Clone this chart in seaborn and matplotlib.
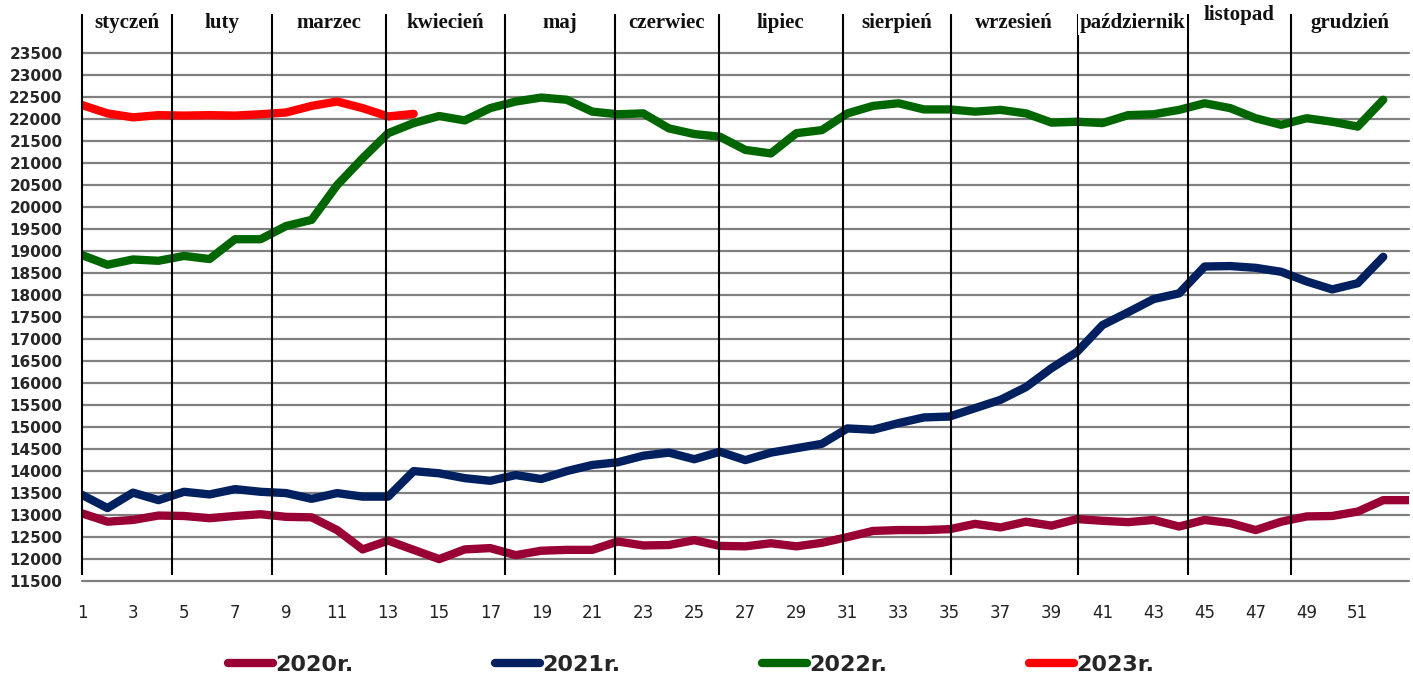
import pandas as pd
import matplotlib
matplotlib.use('Agg')
import matplotlib.pyplot as plt
from matplotlib import font_manager
from matplotlib.lines import Line2D
import seaborn as sns

# weekly values
weeks_2020 = list(range(1, 54))
vals_2020 = [13030, 12840, 12880, 12980, 12970, 12920, 12970, 13010, 12950, 12940,
             12650, 12210, 12410, 12200, 11990, 12210, 12240, 12080, 12180, 12200,
             12200, 12390, 12300, 12310, 12420, 12290, 12280, 12350, 12280, 12360,
             12490, 12630, 12650, 12650, 12670, 12790, 12710, 12840, 12750, 12900,
             12860, 12830, 12880, 12730, 12880, 12810, 12650, 12840, 12960, 12970,
             13070, 13330, 13330]

weeks_2021 = list(range(1, 53))
vals_2021 = [13450, 13150, 13500, 13330, 13520, 13460, 13580, 13520, 13490, 13360,
             13490, 13410, 13410, 13990, 13940, 13830, 13770, 13900, 13810, 13990,
             14130, 14190, 14340, 14410, 14260, 14430, 14240, 14410, 14510, 14610,
             14960, 14930, 15080, 15210, 15230, 15420, 15610, 15900, 16330, 16700,
             17310, 17600, 17900, 18030, 18640, 18650, 18610, 18520, 18300, 18120,
             18260, 18860]

weeks_2022 = list(range(1, 53))
vals_2022 = [18900, 18680, 18800, 18770, 18880, 18810, 19260, 19260, 19560, 19700,
             20490, 21100, 21670, 21900, 22060, 21960, 22240, 22390, 22480, 22430,
             22160, 22100, 22120, 21780, 21650, 21590, 21290, 21210, 21670, 21740,
             22120, 22290, 22350, 22210, 22210, 22160, 22200, 22120, 21910, 21930,
             21900, 22080, 22100, 22200, 22350, 22240, 22010, 21860, 22010, 21930,
             21820, 22430]

weeks_2023 = list(range(1, 15))
vals_2023 = [22310, 22120, 22030, 22080, 22070, 22080, 22070, 22100, 22140, 22290,
             22390, 22240, 22050, 22110]

series_labels = ['2020r.', '2021r.', '2022r.', '2023r.']
series_colors = ['#990033', '#002060', '#006600', '#FF0000']

months = ['styczeń', 'luty', 'marzec', 'kwiecień', 'maj', 'czerwiec', 'lipiec',
          'sierpień', 'wrzesień', 'październik', 'listopad', 'grudzień']
# week positions of the month separators
month_edges = [1, 4.53, 8.45, 12.91, 17.58, 21.89, 25.96, 30.82, 35.05, 40.03,
               44.34, 48.38, 53]

y_ticks = list(range(11500, 24000, 500))
x_ticks = list(range(1, 53, 2))

sns.set_style('white')

fig = plt.figure(figsize=(14.13, 6.77), dpi=100)
ax = fig.add_axes([0.058, 0.1423, 0.939, 0.7799])

data = [(weeks_2020, vals_2020), (weeks_2021, vals_2021),
        (weeks_2022, vals_2022), (weeks_2023, vals_2023)]
for (wk, vals), lab, col in zip(data, series_labels, series_colors):
    sns.lineplot(x=wk, y=vals, color=col, lw=6, ax=ax, zorder=3,
                 solid_capstyle='round', solid_joinstyle='round')

ax.set_xlim(1, 53)
ax.set_ylim(11500, 23500)
ax.set_yticks(y_ticks)
ax.set_xticks(x_ticks)
ax.set_xticklabels([str(x) for x in x_ticks], fontsize=12, color='#222222')
ax.set_yticklabels([str(y) for y in y_ticks], fontsize=11, fontweight='bold')
ax.tick_params(axis='both', length=0)
ax.tick_params(axis='x', pad=17)
ax.tick_params(axis='y', pad=14)
for s in ax.spines.values():
    s.set_visible(False)

for y in y_ticks:
    ax.axhline(y, color='#808080', lw=1.6, zorder=1, clip_on=False)

ax.vlines(month_edges[:-1], 11620, 24380, color='black', lw=1.5, zorder=4,
          clip_on=False)

for i, m in enumerate(months):
    xc = (month_edges[i] + month_edges[i + 1]) / 2
    yc = 24357 if m == 'listopad' else 24170
    ax.text(xc, yc, m, ha='center', va='center', fontsize=15,
            fontweight='bold', family='Liberation Serif', color='#111111',
            zorder=5, bbox=dict(facecolor='white', edgecolor='none', pad=1))

handles = [Line2D([0], [0], color=c, lw=6, solid_capstyle='round')
           for c in series_colors]
fig.legend(handles, series_labels, loc='center', bbox_to_anchor=(0.489, 0.018),
           ncol=4, frameon=False, handlelength=2.0, handletextpad=0.1,
           columnspacing=6.4,
           prop={'family': 'DejaVu Sans', 'weight': 'bold', 'size': 16})

fig.savefig('out.png', dpi=100, facecolor='white')
